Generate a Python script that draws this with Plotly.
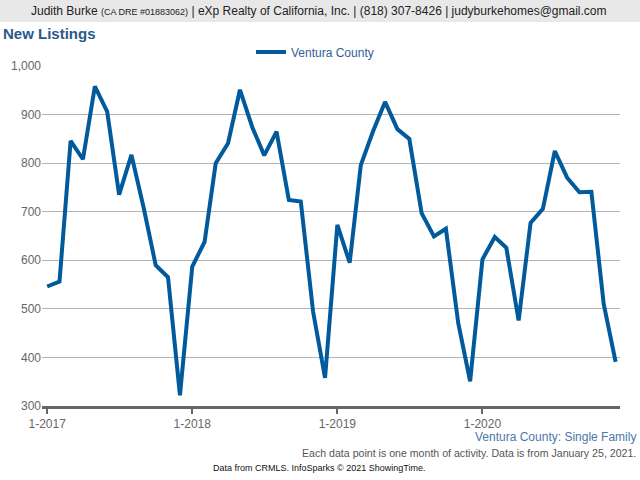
import plotly.graph_objects as go

months = [f"{y}-{m:02d}-01" for y in range(2017, 2021) for m in range(1, 13)]
new_listings = [546, 556, 846, 808, 958, 906, 735, 817, 707, 590, 565, 322,
                587, 638, 800, 841, 951, 874, 816, 865, 724, 721, 494, 358,
                673, 595, 796, 866, 926, 870, 850, 697, 649, 665, 471, 351,
                602, 648, 626, 476, 677, 706, 825, 770, 740, 741, 510, 391]
series_name = "Ventura County"
tick_vals = ["2017-01-01", "2018-01-01", "2019-01-01", "2020-01-01"]
tick_text = ["1-2017", "1-2018", "1-2019", "1-2020"]

L, R, T, B = 42, 20, 66, 74
PW, PH = 640 - L - R, 480 - T - B

def px(x):
    return (x - L) / PW

def py(y):
    return (480 - B - y) / PH

fig = go.Figure()
fig.add_trace(go.Scatter(x=months, y=new_listings, mode="lines", name=series_name,
                         line=dict(color="#005a9c", width=4)))

fig.update_layout(
    width=640, height=480,
    margin=dict(l=L, r=R, t=T, b=B),
    paper_bgcolor="white", plot_bgcolor="white",
    font=dict(family="Liberation Sans, Arial, sans-serif", color="#666666"),
    showlegend=True,
    legend=dict(orientation="h", x=px(251), xanchor="left", y=py(52), yanchor="middle",
                font=dict(size=12, color="#2f5f95"), bgcolor="rgba(0,0,0,0)"),
    xaxis=dict(type="date", range=["2016-12-19", "2020-12-12"],
               tickvals=tick_vals, ticktext=tick_text,
               showgrid=False, showline=True, linecolor="#666666", linewidth=3,
               ticks="outside", ticklen=5, tickwidth=2, tickcolor="#666666",
               tickfont=dict(size=12, color="#666666"), zeroline=False),
    yaxis=dict(range=[300, 1000], dtick=100, tickformat=",",
               showgrid=True, gridcolor="#b4b4b4", gridwidth=1,
               tickfont=dict(size=12, color="#666666"), zeroline=False,
               ticks="", showline=False),
)

# header band
fig.add_shape(type="rect", xref="paper", yref="paper",
              x0=px(0), x1=px(640), y0=py(22), y1=py(0),
              fillcolor="#e8e8e8", line=dict(width=0), layer="below")

fig.add_annotation(xref="paper", yref="paper", x=px(319), y=py(11),
                   xanchor="center", yanchor="middle", showarrow=False,
                   text="Judith Burke <span style='font-size:9px'>(CA DRE #01883062)</span> | eXp Realty of California, Inc. | (818) 307-8426 | judyburkehomes@gmail.com",
                   font=dict(size=12, color="#222222"))
fig.add_annotation(xref="paper", yref="paper", x=px(1), y=py(34),
                   xanchor="left", yanchor="middle", showarrow=False,
                   text="<b>New Listings</b>", font=dict(size=15, color="#2a5a8a"))
fig.add_annotation(xref="paper", yref="paper", x=px(638), y=py(437),
                   xanchor="right", yanchor="middle", showarrow=False,
                   text="Ventura County: Single Family", font=dict(size=12, color="#4a78aa"))
fig.add_annotation(xref="paper", yref="paper", x=px(638), y=py(452.5),
                   xanchor="right", yanchor="middle", showarrow=False,
                   text="Each data point is one month of activity. Data is from January 25, 2021.",
                   font=dict(size=10.6, color="#555555"))
fig.add_annotation(xref="paper", yref="paper", x=px(319), y=py(468),
                   xanchor="center", yanchor="middle", showarrow=False,
                   text="Data from CRMLS. InfoSparks © 2021 ShowingTime.",
                   font=dict(size=9, color="#111111"))

fig.write_html("out.html", post_script="document.body.style.margin='0';",
               config={"displayModeBar": False})
